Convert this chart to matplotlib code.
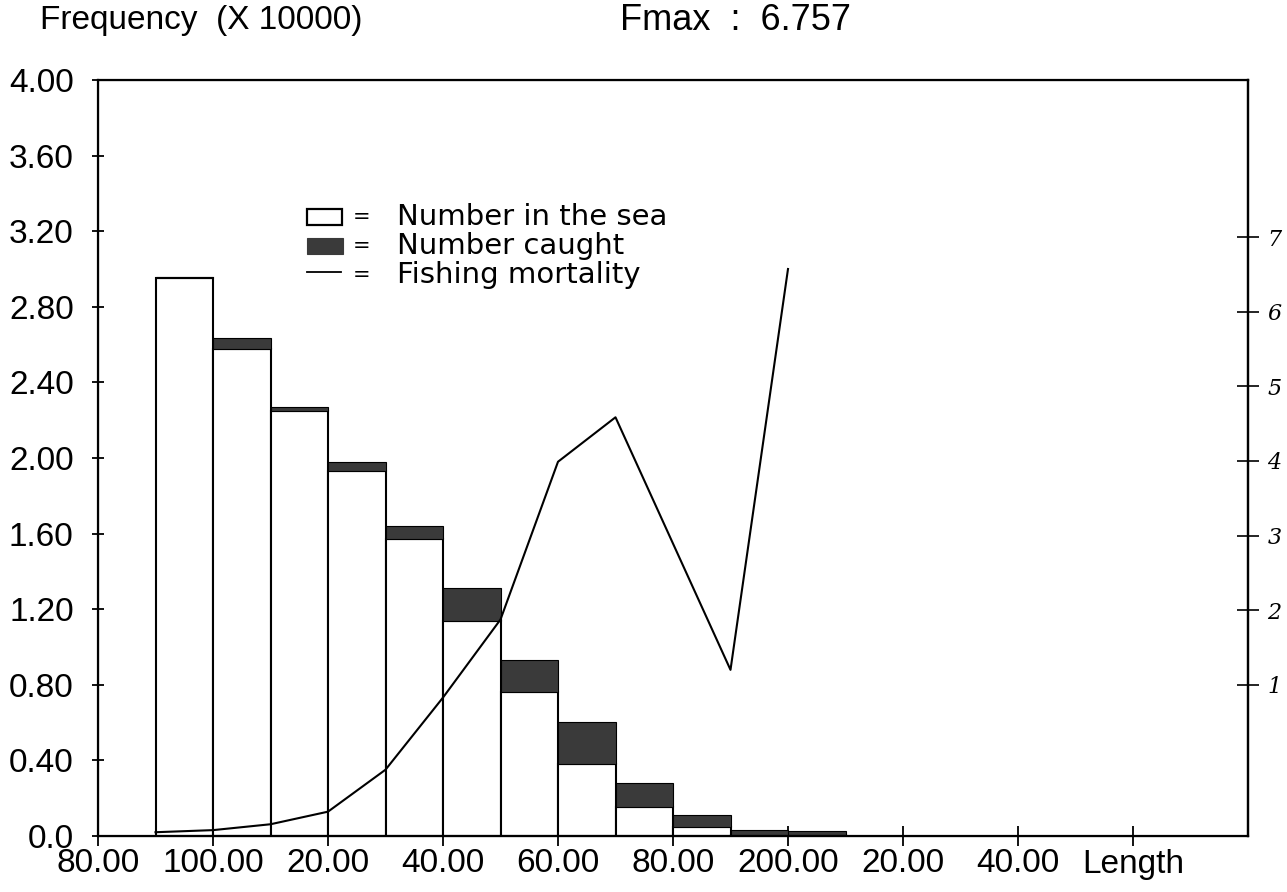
import numpy as np
import matplotlib.pyplot as plt
from matplotlib.patches import Rectangle
from matplotlib.lines import Line2D

# length classes (lower edge of each 10 cm class)
length = [90, 100, 110, 120, 130, 140, 150, 160, 170, 180, 190, 200]
# number in the sea and number caught, in units of 10000
in_sea = [2.95, 2.575, 2.25, 1.93, 1.57, 1.14, 0.76, 0.38, 0.155, 0.05, 0.005, 0.005]
caught = [0.01, 0.06, 0.02, 0.05, 0.07, 0.17, 0.17, 0.225, 0.125, 0.06, 0.025, 0.02]

# fishing mortality by length
f_length = [90, 100, 110, 120, 130, 140, 150, 160, 170, 190, 200]
f_mort = [0.045, 0.07, 0.14, 0.29, 0.79, 1.65, 2.58, 4.46, 4.99, 1.98, 6.757]

yticks = [0.0, 0.4, 0.8, 1.2, 1.6, 2.0, 2.4, 2.8, 3.2, 3.6, 4.0]
ylabels = ['0.0', '0.40', '0.80', '1.20', '1.60', '2.00', '2.40', '2.80', '3.20', '3.60', '4.00']
xticks = [80, 100, 120, 140, 160, 180, 200, 220, 240, 260]
xlabels = ['80.00', '100.00', '20.00', '40.00', '60.00', '80.00', '200.00', '20.00', '40.00', 'Length']
fticks = [1, 2, 3, 4, 5, 6, 7]

W, H = 1287, 892
font = 'Liberation Sans'
dark = '#3a3a3a'

fig = plt.figure(figsize=(W / 100, H / 100), dpi=100)
ax = fig.add_axes([98 / W, 1 - 836 / H, 1150 / W, 756 / H])

# stacked bars: number left in the sea, number caught on top
ax.bar(length, in_sea, width=10, align='edge', color='white', edgecolor='black', linewidth=1.5, zorder=2)
ax.bar(length, caught, bottom=in_sea, width=10, align='edge', color=dark,
       edgecolor='black', linewidth=0.8, zorder=2)

# F is scaled so that Fmax sits at 3.0 on the frequency axis
fmax = max(f_mort)
ax.plot(f_length, np.array(f_mort) * 3.0 / fmax, color='black', linewidth=1.5, zorder=3)

ax.set_xlim(80, 280)
ax.set_ylim(0, 4.0)
ax.set_xticks(xticks)
ax.set_xticklabels(xlabels, fontsize=24, family=font)
ax.set_yticks(yticks)
ax.set_yticklabels(ylabels, fontsize=24, family=font)
ax.tick_params(axis='y', direction='inout', length=9, width=1.3, pad=13)
ax.tick_params(axis='x', direction='inout', length=14, width=1.3, pad=2)
for s in ax.spines.values():
    s.set_linewidth(1.6)

# right hand scale for fishing mortality
ax2 = ax.twinx()
ax2.set_ylim(-1.027, 9.107)
ax2.set_yticks(fticks)
ax2.set_yticklabels([str(t) for t in fticks], fontsize=16, family='DejaVu Serif', style='italic')
ax2.tick_params(axis='y', direction='inout', length=16, width=1.2, pad=6)
ax2.spines['right'].set_linewidth(1.6)


# key drawn by hand, positions in pixels from the top left corner
def px(x, y):
    return x / W, 1 - y / H


rows = [217, 246, 275]
keys = ['Number in the sea', 'Number caught', 'Fishing mortality']
x0, y0 = px(307, rows[0] + 8)
fig.patches.append(Rectangle((x0, y0), 35 / W, 16 / H, transform=fig.transFigure,
                             facecolor='white', edgecolor='black', linewidth=1.6))
x0, y0 = px(307, rows[1] + 8)
fig.patches.append(Rectangle((x0, y0), 36 / W, 16 / H, transform=fig.transFigure,
                             facecolor=dark, edgecolor=dark, linewidth=0.8))
xa, ya = px(307, rows[2] - 3)
xb, _ = px(341, rows[2])
fig.lines.append(Line2D([xa, xb], [ya, ya], transform=fig.transFigure, color='black', linewidth=1.3))
for r, k in zip(rows, keys):
    fig.text(*px(362, r), '=', fontsize=15, ha='center', va='center')
    fig.text(*px(397, r), k, fontsize=21, ha='left', va='center')

fig.text(*px(40, 20), 'Frequency  (X 10000)', fontsize=24, family=font, va='center')
fig.text(*px(620, 20), 'Fmax  :  6.757', fontsize=26, family=font, va='center')

fig.savefig('out.png', dpi=100)
